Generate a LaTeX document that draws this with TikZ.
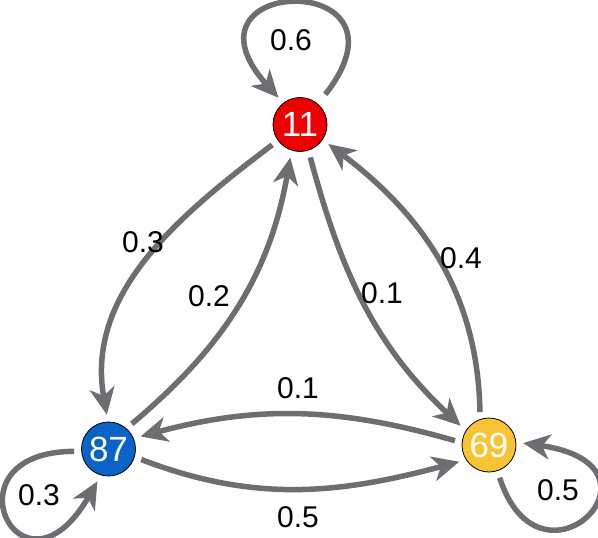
\documentclass[tikz,border=0pt]{standalone}
\usepackage{fontspec}
\setmainfont{Liberation Sans}
\usetikzlibrary{arrows.meta}
\definecolor{edgegray}{HTML}{6D6E71}
\definecolor{nodered}{HTML}{EE0000}
\definecolor{nodeblue}{HTML}{0A64C8}
\definecolor{nodeyellow}{HTML}{F9C433}
\begin{document}
\begin{tikzpicture}[x=1pt,y=-1pt,
  state/.style={circle,draw=black,line width=0.8pt,minimum size=54pt,inner sep=0pt,text=white,font=\fontsize{35}{35}\selectfont},
  edge/.style={draw=edgegray,line width=5.5pt,-{Stealth[length=27pt,width=25pt,inset=8pt]},shorten <=7pt,shorten >=7pt},
  lbl/.style={font=\fontsize{30}{30}\selectfont,text=black,inner sep=0pt}]
\useasboundingbox (0,0) rectangle (598,538);

\node[state,fill=nodered] (n11) at (300,124.5) {11};
\node[state,fill=nodeblue] (n87) at (108.5,449) {87};
\node[state,fill=nodeyellow] (n69) at (489,445) {69};

% edges between nodes
\draw[edge] (n11.216) to[out=217,in=100] (n87.91);
\draw[edge] (n87.49) to[out=40,in=260] (n11.252);
\draw[edge] (n11.288) to[out=285,in=137] (n69.148);
\draw[edge] (n69.109) to[out=91,in=323] (n11.326);
\draw[edge] (n69.175) to[out=164,in=15] (n87.23);
\draw[edge] (n87.-17) to[out=-21,in=195] (n69.213);

% self loops
\draw[edge,shorten <=12pt] (n11.49) to[out=52,in=132,distance=172pt] (n11.128);
\draw[edge] (n87.185) to[out=180,in=240,out distance=140pt,in distance=160pt] (n87.254);
\draw[edge] (n69.288) to[out=288,in=352,out distance=140pt,in distance=165pt] (n69.6);

% labels
\node[lbl] (l116) at (291,40) {0.6};
\node[lbl] (l1187) at (143,242) {0.3};
\node[lbl] (l8711) at (209,296) {0.2};
\node[lbl] (l1169) at (382,293) {0.1};
\node[lbl] (l6911) at (461,258) {0.4};
\node[lbl] (l6987) at (298,388) {0.1};
\node[lbl] (l8769) at (298,517) {0.5};
\node[lbl] (l8787) at (39,495) {0.3};
\node[lbl] (l6969) at (558,490) {0.5};
\end{tikzpicture}
\end{document}
